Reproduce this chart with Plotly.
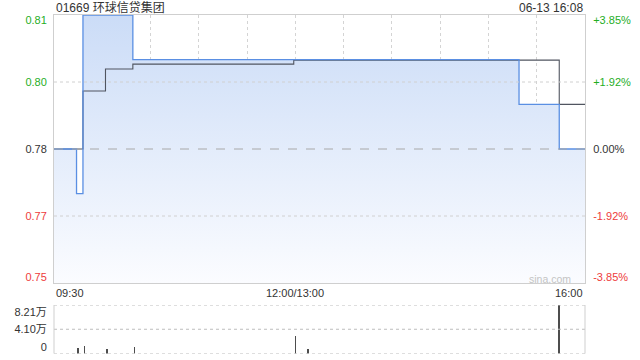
import plotly.graph_objects as go

# ---------------- data ----------------
title_text = "01669 环球信贷集团"
stamp_text = "06-13 16:08"
prev_close = 0.78

price_times = ["09:30", "09:44", "09:48", "10:19", "15:19", "15:44", "16:00"]
price_values = [0.78, 0.77, 0.81, 0.80, 0.79, 0.78, 0.78]

avg_times = ["09:30", "09:48", "10:02", "10:19", "11:59", "15:44", "16:00"]
avg_values = [0.78, 0.793, 0.7979, 0.7990, 0.7999, 0.7900, 0.7900]

vol_times = ["09:45", "09:49", "10:03", "10:20", "12:00", "13:08", "15:44"]
vol_values = [8500, 13500, 7600, 11000, 28800, 6800, 82100]

price_tick_values = [0.81, 0.795, 0.78, 0.765, 0.75]
price_tick_labels = ["0.81", "0.80", "0.78", "0.77", "0.75"]
pct_tick_labels = ["+3.85%", "+1.92%", "0.00%", "-1.92%", "-3.85%"]
vol_tick_values = [0, 41050, 82100]
vol_tick_labels = ["0", "4.10万", "8.21万"]

time_ticks = ["09:30", "12:00", "16:00"]
time_tick_labels = ["09:30", "12:00/13:00", "16:00"]

# ---------------- helpers ----------------
def t2i(t):
    h, m = map(int, t.split(":"))
    mins = h * 60 + m - (9 * 60 + 30)
    if h >= 13:
        mins -= 60
    return mins

GREEN = "#1fae1f"
RED = "#ee3b3b"
DARK = "#333333"
FONT = "Liberation Sans, Arial, Noto Sans CJK SC, sans-serif"

def col_for(i):
    return [GREEN, GREEN, DARK, RED, RED][i]

px_per_unit = 268 / 0.06
inset = [-5 / px_per_unit, 0, 0, 0, 6 / px_per_unit]
label_pos = [v + d for v, d in zip(price_tick_values, inset)]

left_text = [f'<span style="color:{col_for(i)}">{s}</span>' for i, s in enumerate(price_tick_labels)]
right_text = [f'<span style="color:{col_for(i)}">{s}</span>' for i, s in enumerate(pct_tick_labels)]

vol_px = 82100 / 48.5
vol_label_pos = [vol_tick_values[0] + 6 * vol_px, vol_tick_values[1], vol_tick_values[2] - 7 * vol_px]

px = [t2i(t) for t in price_times]
ax = [t2i(t) for t in avg_times]
vx = [t2i(t) for t in vol_times]
XMAX = t2i("16:00")
YMIN, YMAX = 0.75, 0.81

fig = go.Figure()

# baseline for fill
fig.add_trace(go.Scatter(x=[0, XMAX], y=[YMIN, YMIN], mode="lines",
                         line=dict(width=0), hoverinfo="skip", showlegend=False))
# price fill
fig.add_trace(go.Scatter(x=px, y=price_values, mode="lines", line_shape="hv",
                         line=dict(width=0), fill="tonexty",
                         fillgradient=dict(type="vertical", start=YMIN, stop=YMAX,
                                           colorscale=[[0, "#fbfcff"], [1, "#cbdcf7"]]),
                         hoverinfo="skip", showlegend=False))
# average line
fig.add_trace(go.Scatter(x=ax, y=avg_values, mode="lines", line_shape="hv",
                         line=dict(color="#505560", width=1.1), showlegend=False))
# price line
fig.add_trace(go.Scatter(x=px, y=price_values, mode="lines", line_shape="hv",
                         line=dict(color="#5a8fe3", width=1.3), showlegend=False))
# dummy for right axis
fig.add_trace(go.Scatter(x=[0], y=[prev_close], yaxis="y3", mode="markers",
                         marker=dict(opacity=0), hoverinfo="skip", showlegend=False))
# volume
fig.add_trace(go.Bar(x=vx, y=vol_values, xaxis="x2", yaxis="y2", width=0.45,
                     marker=dict(color="#4d4d4d", line=dict(width=0)), showlegend=False))

main_dom = [77 / 360, 345 / 360]
vol_dom = [6.5 / 360, 55 / 360]

fig.update_layout(
    width=640, height=360,
    margin=dict(l=54, r=55, t=0, b=0),
    paper_bgcolor="white", plot_bgcolor="rgba(0,0,0,0)",
    font=dict(family=FONT, size=11, color=DARK),
    bargap=0,
    xaxis=dict(domain=[0, 1], range=[0, XMAX], tickvals=list(range(0, XMAX + 1, 30)),
               showticklabels=False, ticks="", showgrid=True, gridcolor="#d4d4d4",
               griddash="dot", gridwidth=1, zeroline=False,
               showline=True, linecolor="#cfcfcf", mirror=True, anchor="y"),
    yaxis=dict(domain=main_dom, range=[YMIN, YMAX], tickvals=label_pos, ticktext=left_text,
               showgrid=False, zeroline=False, ticks="outside", ticklen=4,
               tickcolor="rgba(0,0,0,0)", showline=True, linecolor="#cfcfcf", mirror=True,
               tickfont=dict(size=11)),
    yaxis3=dict(domain=main_dom, range=[YMIN, YMAX], overlaying="y", side="right",
                tickvals=label_pos, ticktext=right_text, showgrid=False, zeroline=False,
                ticks="outside", ticklen=5, tickcolor="rgba(0,0,0,0)", showline=False,
                tickfont=dict(size=11)),
    xaxis2=dict(domain=[0, 1], range=[0, XMAX], anchor="y2", showticklabels=False,
                ticks="", showgrid=False, zeroline=False, showline=False),
    yaxis2=dict(domain=vol_dom, range=[0, vol_tick_values[-1]], tickvals=vol_label_pos,
                ticktext=vol_tick_labels, showgrid=False, zeroline=False, ticks="outside",
                ticklen=4, tickcolor="rgba(0,0,0,0)", showline=False, anchor="x2",
                tickfont=dict(size=11, color=DARK)),
)

shapes = []
# horizontal gridlines main
for v in [price_tick_values[1], price_tick_values[3]]:
    shapes.append(dict(type="line", xref="x domain", yref="y", x0=0, x1=1, y0=v, y1=v,
                       line=dict(color="#d0d0d0", width=1, dash="dot")))
shapes.append(dict(type="line", xref="x domain", yref="y", x0=0, x1=1, y0=prev_close,
                   y1=prev_close, line=dict(color="#a8a8a8", width=1, dash="dash")))
# volume gridlines
for v in vol_tick_values:
    shapes.append(dict(type="line", xref="x2 domain", yref="y2", x0=0, x1=1, y0=v, y1=v,
                       line=dict(color="#bdbdbd", width=1, dash="dot")))
# volume side borders
for xx in [0, 1]:
    shapes.append(dict(type="line", xref="x2 domain", yref="y2 domain", x0=xx, x1=xx,
                       y0=0, y1=1, line=dict(color="#cfcfcf", width=1)))
fig.update_layout(shapes=shapes)

ann = [
    dict(text=title_text, xref="paper", yref="paper", x=0, y=1 - 7.5 / 360,
         xanchor="left", yanchor="middle", showarrow=False,
         font=dict(size=12, color=DARK, family=FONT)),
    dict(text=stamp_text, xref="paper", yref="paper", x=1, y=1 - 7.5 / 360,
         xanchor="right", yanchor="middle", showarrow=False,
         font=dict(size=12, color=DARK, family=FONT)),
    dict(text="sina.com", xref="paper", yref="paper", x=1, xshift=-12, y=1 - 279 / 360,
         xanchor="right", yanchor="middle", showarrow=False,
         font=dict(size=10.5, color="#c4c4c4", family=FONT)),
]
anchors = ["left", "center", "right"]
for t, lab, a in zip(time_ticks, time_tick_labels, anchors):
    ann.append(dict(text=lab, xref="x", yref="paper", x=t2i(t), y=1 - 292.5 / 360,
                    xanchor=a, yanchor="middle", showarrow=False,
                    font=dict(size=11, color=DARK, family=FONT)))
fig.update_layout(annotations=ann)

fig.write_html("out.html")
